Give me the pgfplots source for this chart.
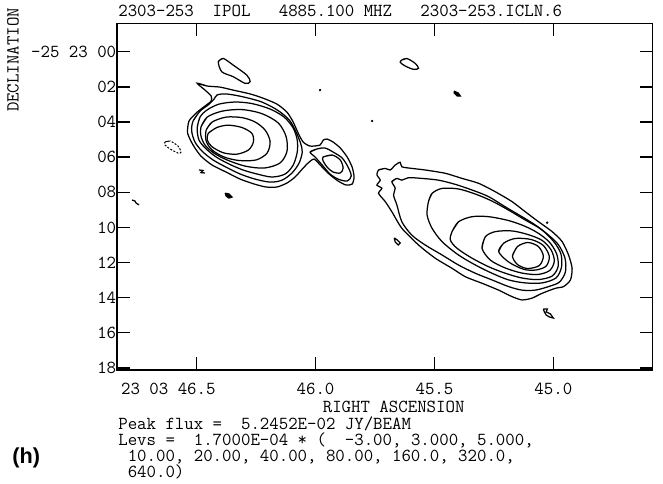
\documentclass[border=0pt]{standalone}
\usepackage{fontspec}
\newfontfamily\labsans{Liberation Sans}
\usepackage{pgfplots}
\pgfplotsset{compat=1.18}
\newcommand\labfont{\ttfamily\fontsize{11pt}{11pt}\selectfont}
\tikzset{ctr/.style={smooth,tension=0.5,line width=0.75pt,black},
         blob/.style={line width=0.75pt,black}}

\begin{document}
\begin{tikzpicture}[font=\labfont]
\begin{axis}[scale only axis,width=321.3pt,height=208pt,
 xmin=44.583,xmax=46.835,x dir=reverse,
 ymin=-1.62,ymax=18.12,y dir=reverse,
 axis line style={line width=0.9pt},
 tick align=inside,tick pos=both,major tick length=7.8pt,
 tick style={line width=0.8pt,black},
 xtick={45.0,45.5,46.0,46.5},
 xticklabels={45.0,45.5,46.0,\llap{23 03 }46.5},
 ytick={0,2,...,18},
 yticklabels={-25 23 00,02,04,06,08,10,12,14,16,18},
 xticklabel style={anchor=base,yshift=-14.4pt},
 yticklabel style={anchor=east,inner xsep=0.3pt},
 tick label style={font=\labfont}]

% western component, levels 3,5,10,20,40,80 (outer level also wraps the knot)
\addplot[ctr,tension=0.4] coordinates {(46.498,1.79) (46.456,1.95) (46.402,2.01) (46.347,2.18) (46.275,2.40) (46.221,2.64) (46.162,2.98) (46.120,3.44) (46.094,4.00) (46.073,4.63) (46.052,5.14) (46.023,5.37) (45.981,5.31) (45.968,5.03) (45.951,4.97) (45.926,5.14) (45.896,5.48) (45.867,5.99) (45.846,6.57) (45.838,7.13) (45.846,7.53) (45.871,7.59) (45.905,7.36) (45.943,6.96) (45.976,6.51) (46.006,6.11) (46.031,6.33) (46.056,6.68) (46.086,7.13) (46.120,7.47) (46.162,7.70) (46.208,7.70) (46.258,7.53) (46.317,7.25) (46.376,6.85) (46.435,6.45) (46.482,5.94) (46.515,5.31) (46.538,4.63) (46.532,3.94) (46.498,3.44) (46.465,3.09) (46.439,2.81) (46.439,2.52) (46.465,2.18) (46.498,1.79) (46.456,1.95)};
\addplot[ctr] coordinates {(46.515,3.94) (46.486,3.38) (46.452,3.03) (46.427,2.70) (46.414,2.46) (46.376,2.40) (46.310,2.55) (46.226,2.86) (46.157,3.35) (46.109,3.91) (46.082,4.57) (46.063,5.20) (46.056,5.71) (46.069,6.33) (46.099,6.90) (46.141,7.31) (46.191,7.42) (46.254,7.25) (46.317,6.96) (46.376,6.57) (46.431,6.16) (46.477,5.66) (46.507,5.14) (46.521,4.51) (46.515,3.94) (46.486,3.38)};
\addplot[ctr] coordinates {(46.498,4.34) (46.486,3.72) (46.456,3.31) (46.406,2.98) (46.338,2.86) (46.267,2.95) (46.191,3.26) (46.132,3.72) (46.094,4.34) (46.077,5.03) (46.077,5.71) (46.094,6.45) (46.128,6.96) (46.183,7.13) (46.246,6.96) (46.305,6.73) (46.364,6.39) (46.418,5.99) (46.460,5.53) (46.490,5.03) (46.498,4.34) (46.486,3.72)};
\addplot[ctr] coordinates {(46.482,4.29) (46.456,3.72) (46.393,3.38) (46.310,3.29) (46.226,3.52) (46.157,4.05) (46.124,4.82) (46.120,5.66) (46.149,6.33) (46.216,6.62) (46.296,6.51) (46.372,6.16) (46.427,5.77) (46.465,5.31) (46.482,4.79) (46.482,4.29) (46.456,3.72)};
\addplot[ctr] coordinates {(46.460,4.46) (46.435,4.00) (46.376,3.72) (46.309,3.75) (46.254,4.00) (46.212,4.46) (46.191,5.11) (46.204,5.77) (46.250,6.16) (46.322,6.19) (46.385,5.99) (46.435,5.59) (46.460,5.08) (46.460,4.46) (46.435,4.00)};
\addplot[ctr] coordinates {(46.451,4.64) (46.415,4.31) (46.367,4.18) (46.310,4.31) (46.268,4.64) (46.261,5.12) (46.282,5.59) (46.331,5.83) (46.388,5.75) (46.436,5.40) (46.455,5.03) (46.451,4.64) (46.415,4.31)};
% knot
\addplot[ctr] coordinates {(46.023,5.71) (45.993,5.53) (45.960,5.48) (45.926,5.71) (45.888,6.05) (45.863,6.57) (45.850,7.07) (45.867,7.36) (45.905,7.25) (45.939,6.96) (45.972,6.45) (46.002,5.99) (46.023,5.71) (45.993,5.53)};
\addplot[ctr] coordinates {(45.968,5.99) (45.930,5.88) (45.896,6.16) (45.884,6.62) (45.896,6.90) (45.926,6.85) (45.951,6.57) (45.968,6.22) (45.968,5.99) (45.930,5.88)};

% eastern component, levels 3 ... 160
\addplot[ctr,tension=0.4] coordinates {(45.735,6.73) (45.707,6.64) (45.686,6.73) (45.665,6.45) (45.644,6.29) (45.637,6.55) (45.595,6.64) (45.539,6.73) (45.454,6.92) (45.384,7.21) (45.314,7.49) (45.244,7.97) (45.174,8.53) (45.118,9.11) (45.062,9.68) (45.005,10.24) (44.963,10.81) (44.936,11.57) (44.921,12.33) (44.928,12.99) (44.957,13.37) (44.992,13.47) (45.047,13.75) (45.090,14.03) (45.132,14.13) (45.174,13.94) (45.230,13.57) (45.300,13.18) (45.370,12.81) (45.426,12.33) (45.497,11.75) (45.567,11.00) (45.637,10.05) (45.679,9.11) (45.707,8.53) (45.735,8.06) (45.721,7.77) (45.742,7.59) (45.728,7.31) (45.742,7.01) (45.735,6.73) (45.707,6.64)};
\addplot[ctr] coordinates {(45.679,7.40) (45.658,7.21) (45.637,7.31) (45.609,7.17) (45.553,7.21) (45.483,7.31) (45.412,7.55) (45.342,7.87) (45.272,8.25) (45.202,8.83) (45.132,9.39) (45.076,9.86) (45.020,10.44) (44.978,11.00) (44.951,11.75) (44.949,12.52) (44.974,13.11) (45.020,13.37) (45.076,13.57) (45.132,13.57) (45.188,13.37) (45.258,12.99) (45.328,12.61) (45.399,12.14) (45.468,11.57) (45.539,11.00) (45.595,10.44) (45.637,9.68) (45.658,8.72) (45.672,8.16) (45.665,7.77) (45.679,7.40) (45.658,7.21)};
\addplot[ctr] coordinates {(45.525,8.53) (45.510,8.06) (45.468,7.78) (45.399,7.81) (45.328,8.10) (45.258,8.50) (45.189,9.01) (45.122,9.55) (45.050,10.12) (44.997,10.83) (44.968,11.51) (44.966,12.28) (44.989,12.88) (45.047,13.16) (45.118,13.16) (45.188,12.99) (45.258,12.61) (45.328,12.14) (45.399,11.57) (45.468,10.81) (45.510,10.05) (45.531,9.29) (45.525,8.53) (45.510,8.06)};
\addplot[ctr] coordinates {(45.426,10.24) (45.399,9.68) (45.342,9.39) (45.272,9.39) (45.188,9.61) (45.122,9.92) (45.067,10.30) (45.017,10.83) (44.986,11.51) (44.980,12.23) (45.005,12.77) (45.063,12.97) (45.132,12.88) (45.202,12.61) (45.272,12.24) (45.342,11.75) (45.405,11.19) (45.433,10.72) (45.426,10.24) (45.399,9.68)};
\addplot[ctr] coordinates {(45.300,11.19) (45.286,10.53) (45.244,10.24) (45.174,10.20) (45.106,10.41) (45.047,10.74) (45.009,11.29) (44.996,11.92) (45.015,12.45) (45.065,12.68) (45.132,12.60) (45.202,12.31) (45.265,11.86) (45.300,11.19) (45.286,10.53)};
\addplot[ctr] coordinates {(45.230,11.38) (45.209,10.90) (45.160,10.63) (45.093,10.69) (45.042,11.03) (45.017,11.65) (45.030,12.20) (45.071,12.42) (45.124,12.39) (45.188,11.97) (45.230,11.38) (45.209,10.90)};
\addplot[ctr] coordinates {(45.172,11.63) (45.151,11.09) (45.107,10.86) (45.063,11.09) (45.042,11.63) (45.059,12.17) (45.109,12.34) (45.151,12.11) (45.172,11.63) (45.151,11.09)};

% small islands and noise
\addplot[ctr] coordinates {(46.409,0.57) (46.388,0.38) (46.346,0.76) (46.289,1.33) (46.275,1.70) (46.296,1.80) (46.346,1.42) (46.394,1.14) (46.409,0.57) (46.388,0.38)};
\addplot[ctr] coordinates {(45.637,0.47) (45.616,0.38) (45.581,0.66) (45.567,0.94) (45.588,1.00) (45.623,0.81) (45.644,0.60) (45.637,0.47) (45.616,0.38)};
\addplot[blob,fill=black] coordinates {(45.417,2.24) (45.400,2.35) (45.391,2.52) (45.404,2.52) (45.417,2.35) (45.417,2.24)};
\addplot[ctr,dash pattern=on 1.2pt off 0.9pt,line width=0.6pt] coordinates {(46.633,5.14) (46.612,5.08) (46.578,5.37) (46.566,5.71) (46.578,5.77) (46.612,5.53) (46.633,5.31) (46.633,5.14) (46.612,5.08)};
\addplot[blob] coordinates {(46.490,6.73) (46.473,6.76) (46.482,6.88) (46.465,6.90)};
\addplot[blob,fill=black] coordinates {(46.380,8.05) (46.364,8.10) (46.351,8.27) (46.364,8.33) (46.376,8.21) (46.380,8.05)};
\addplot[blob] coordinates {(46.772,8.44) (46.759,8.50) (46.755,8.61) (46.742,8.72)};
\addplot[blob] coordinates {(45.669,10.60) (45.656,10.72) (45.644,10.89) (45.652,11.00) (45.665,10.83) (45.669,10.60)};
\addplot[blob] coordinates {(45.042,14.64) (45.025,14.64) (45.030,14.81) (45.013,14.92) (45.000,15.16) (45.017,15.10) (45.030,14.99) (45.038,14.81) (45.042,14.64)};
\addplot[only marks,mark=*,mark size=0.5pt,black] coordinates {(45.981,2.18) (45.762,3.94) (45.026,9.73)};

\coordinate (sw) at (rel axis cs:0,0);
\coordinate (nw) at (rel axis cs:0,1);
\end{axis}

\node[anchor=base west,inner sep=0pt] at ([shift={(0.6pt,4pt)}]nw)
  {2303-253\ \ IPOL\ \ \ 4885.100 MHZ\ \ \ 2303-253.ICLN.6};
\node[rotate=90,inner sep=0pt] at ([shift={(-62.4pt,-22pt)}]nw) {DECLINATION};
\node[anchor=base,inner sep=0pt] at ([shift={(166pt,-25.2pt)}]sw) {RIGHT ASCENSION};
\node[anchor=base west,inner sep=0pt] at ([shift={(0.6pt,-35.4pt)}]sw) {Peak flux =\ \ 5.2452E-02 JY/BEAM};
\node[anchor=base west,inner sep=0pt] at ([shift={(0.6pt,-45pt)}]sw) {Levs =\ \ 1.7000E-04 * (\ \ -3.00, 3.000, 5.000,};
\node[anchor=base west,inner sep=0pt] at ([shift={(0.6pt,-54.6pt)}]sw) {\ 10.00, 20.00, 40.00, 80.00, 160.0, 320.0,};
\node[anchor=base west,inner sep=0pt] at ([shift={(0.6pt,-64.2pt)}]sw) {\ 640.0)};
\node[anchor=base west,inner sep=0pt] at ([shift={(-63pt,-55.8pt)}]sw) {\labsans\bfseries\fontsize{13pt}{13pt}\selectfont (h)};

\pgfresetboundingbox
\path[use as bounding box] ([shift={(-70.2pt,-67.8pt)}]sw) rectangle ++(397.8pt,289.8pt);
\end{tikzpicture}
\end{document}
